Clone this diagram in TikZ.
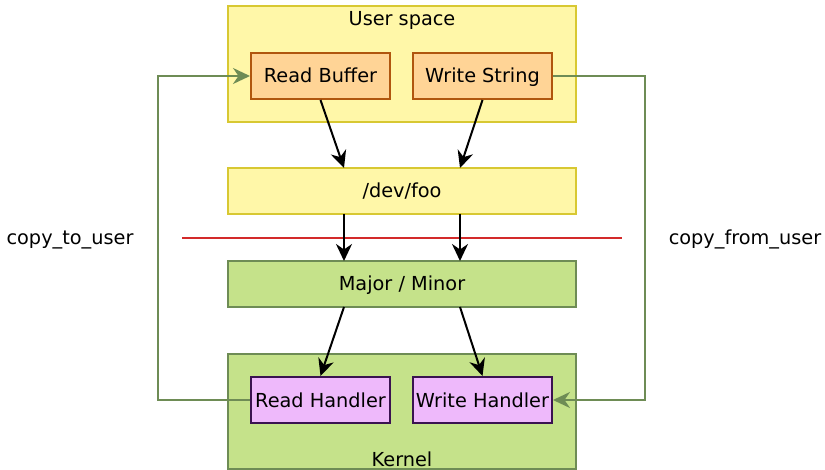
\documentclass[tikz,border=0pt]{standalone}
\usepackage{fontspec}
\setmainfont{DejaVu Sans}
\usetikzlibrary{arrows.meta}
\definecolor{yfill}{HTML}{FFF7A8}
\definecolor{ydraw}{HTML}{D8C832}
\definecolor{ofill}{HTML}{FFD496}
\definecolor{odraw}{HTML}{B0560E}
\definecolor{gfill}{HTML}{C5E28A}
\definecolor{gdraw}{HTML}{6E8C55}
\definecolor{pfill}{HTML}{EEB9FB}
\definecolor{pdraw}{HTML}{3A1250}
\definecolor{redline}{HTML}{D32A2A}
\tikzset{
  x=1pt, y=-1pt,
  every node/.style={font=\fontsize{19.3}{22}\selectfont, inner sep=0pt},
  box/.style={draw, line width=2pt, minimum height=46pt, text height=14pt, text depth=0pt},
  ybox/.style={box, fill=yfill, draw=ydraw, minimum width=348pt},
  gbox/.style={box, fill=gfill, draw=gdraw, minimum width=348pt},
  obox/.style={box, fill=ofill, draw=odraw, minimum width=139pt},
  pbox/.style={box, fill=pfill, draw=pdraw, minimum width=139pt},
  arr/.style={line width=2pt, -{Stealth[length=17pt,width=16pt,inset=5.5pt]}},
  garr/.style={draw=gdraw, line width=2pt, -{Stealth[length=17pt,width=16pt,inset=5.5pt]}},
}
\begin{document}
\begin{tikzpicture}
\useasboundingbox (0,0) rectangle (825,470);
% containers
\node[ybox, minimum height=116pt] (user) at (402,64) {};
\node[anchor=base] (userlbl) at (402,26) {User space};
\node[gbox, minimum height=115pt] (kernel) at (402,411.5) {};
\node[anchor=base] (kernellbl) at (402,466) {Kernel};
% inner nodes
\node[obox] (rb) at (320.5,76) {Read Buffer};
\node[obox] (ws) at (482.5,76) {Write String};
\node[ybox] (dev) at (402,191) {/dev/foo};
\node[gbox] (mm) at (402,284) {Major / Minor};
\node[pbox] (rh) at (320.5,400) {Read Handler};
\node[pbox] (wh) at (482.5,400) {Write Handler};
% boundary line
\coordinate (rl) at (182,238);
\coordinate (rr) at (622,238);
\draw[redline, line width=2pt] (rl) -- (rr);
% labels
\node[anchor=base] (ctu) at (70,245) {copy\_to\_user};
\node[anchor=base] (cfu) at (745,245) {copy\_from\_user};
% arrows
\draw[arr] (rb.south) -- (344,168);
\draw[arr] (ws.south) -- (460,168);
\draw[arr] (344,214) -- (344,261);
\draw[arr] (460,214) -- (460,261);
\draw[arr] (344,307) -- (rh.north);
\draw[arr] (460,307) -- (wh.north);
% green loops
\coordinate (g1) at (645,76);
\coordinate (g2) at (645,400);
\coordinate (g3) at (158,400);
\coordinate (g4) at (158,76);
\draw[garr] (ws.east) -- (g1) -- (g2) -- (wh.east);
\draw[garr] (rh.west) -- (g3) -- (g4) -- (rb.west);
\end{tikzpicture}
\end{document}
